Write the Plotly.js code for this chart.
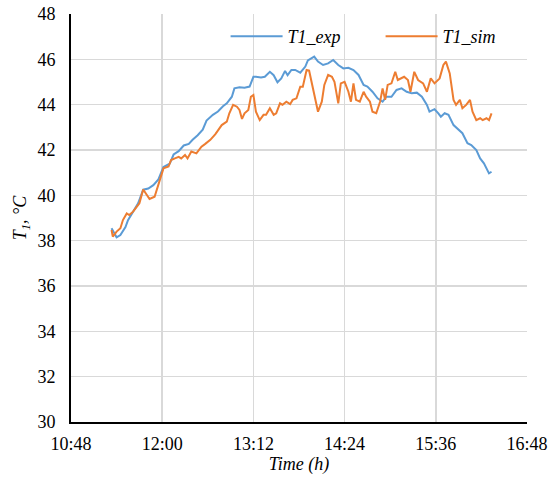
<!DOCTYPE html>
<html>
<head>
<meta charset="utf-8">
<script src="https://cdn.plot.ly/plotly-3.0.1.min.js"></script>
<style>html,body{margin:0;padding:0;background:#fff;}#chart{width:550px;height:478px;}</style>
</head>
<body>
<div id="chart"></div>
<script>
const expTime = ["11:20","11:24","11:27","11:31","11:33","11:37","11:41","11:45","11:49","11:53","11:57","12:01","12:04","12:06","12:09","12:13","12:17","12:21","12:24","12:28","12:32","12:35","12:40","12:44","12:48","12:51","12:55","12:57","13:01","13:05","13:09","13:12","13:14","13:18","13:21","13:25","13:28","13:31","13:34","13:37","13:39","13:42","13:45","13:49","13:53","13:55","14:00","14:03","14:07","14:11","14:15","14:19","14:23","14:27","14:31","14:35","14:39","14:42","14:46","14:50","14:54","14:57","15:01","15:05","15:09","15:13","15:17","15:21","15:25","15:29","15:31","15:35","15:38","15:40","15:43","15:46","15:50","15:53","15:57","16:01","16:04","16:08","16:11","16:14","16:18","16:20"];
const expTemp = [38.55,38.15,38.25,38.6,38.9,39.3,39.65,40.25,40.3,40.45,40.7,41.25,41.35,41.4,41.8,41.95,42.2,42.27,42.45,42.65,42.9,43.3,43.55,43.7,43.93,44.06,44.35,44.72,44.77,44.75,44.8,45.23,45.23,45.2,45.23,45.45,45.3,44.99,45.16,45.49,45.3,45.53,45.53,45.41,45.68,45.95,46.12,45.9,45.75,45.82,45.97,45.75,45.6,45.63,45.53,45.31,44.87,44.8,44.57,44.28,44.13,44.35,44.35,44.65,44.72,44.57,44.5,44.53,44.35,43.99,43.69,43.8,43.62,43.47,43.62,43.55,43.1,42.96,42.74,42.3,42.22,42.0,41.63,41.41,40.97,41.04];
const simTime = ["11:20","11:21","11:24","11:27","11:29","11:32","11:34","11:37","11:40","11:42","11:45","11:48","11:50","11:54","11:57","12:01","12:05","12:07","12:10","12:13","12:15","12:18","12:20","12:23","12:27","12:31","12:34","12:38","12:42","12:47","12:51","12:53","12:56","12:59","13:01","13:03","13:05","13:08","13:10","13:12","13:14","13:17","13:20","13:22","13:25","13:28","13:30","13:33","13:35","13:38","13:41","13:43","13:46","13:49","13:51","13:54","13:56","13:58","14:00","14:03","14:06","14:08","14:11","14:14","14:16","14:19","14:21","14:24","14:27","14:29","14:31","14:33","14:36","14:39","14:41","14:44","14:46","14:49","14:52","14:54","14:56","14:58","15:01","15:04","15:06","15:09","15:11","15:14","15:16","15:19","15:22","15:26","15:29","15:32","15:35","15:39","15:42","15:44","15:47","15:50","15:52","15:55","15:57","16:00","16:03","16:05","16:08","16:11","16:13","16:16","16:18","16:20"];
const simTemp = [38.47,38.18,38.4,38.55,38.91,39.2,39.13,39.28,39.5,39.65,40.26,40.01,39.84,39.94,40.46,41.19,41.27,41.56,41.63,41.7,41.63,41.78,41.63,41.93,41.85,42.15,42.27,42.45,42.7,43.1,43.25,43.62,43.99,43.91,43.77,43.37,43.62,43.77,44.35,44.43,43.69,43.32,43.55,43.55,43.84,43.55,43.62,44.06,43.99,44.13,44.02,44.21,44.28,44.79,44.79,45.53,45.5,45.01,44.43,43.69,44.13,44.87,45.31,45.23,45.01,44.06,44.94,45.01,44.57,44.13,44.94,44.21,44.13,44.57,44.35,44.13,43.69,43.62,44.13,44.72,44.21,44.87,44.94,45.45,45.09,45.16,45.23,45.09,44.57,45.45,45.09,44.94,44.57,45.16,44.94,45.16,45.75,45.9,45.38,44.21,43.99,44.21,43.84,43.99,44.21,43.69,43.32,43.4,43.32,43.4,43.32,43.62];
const xTickLabels = ["10:48","12:00","13:12","14:24","15:36","16:48"];
const yTickValues = [30,32,34,36,38,40,42,44,46,48];

const day = "2024-01-01 ";
const toDate = t => day + t;
const font = "'Liberation Serif', 'Times New Roman', serif";

const traces = [
  {x: expTime.map(toDate), y: expTemp, name: "<i>T1_exp</i>", type: "scatter", mode: "lines",
   line: {color: "#5B9BD5", width: 2}},
  {x: simTime.map(toDate), y: simTemp, name: "<i>T1_sim</i>", type: "scatter", mode: "lines",
   line: {color: "#ED7D31", width: 2}}
];

const layout = {
  width: 550, height: 478,
  margin: {l: 71, r: 23, t: 14, b: 56, autoexpand: false},
  paper_bgcolor: "#fff", plot_bgcolor: "#fff",
  font: {family: font, size: 18, color: "#000"},
  showlegend: true,
  legend: {orientation: "h", x: 0.339, xanchor: "left", y: 0.945, yanchor: "middle",
           bgcolor: "rgba(0,0,0,0)", font: {family: font, size: 18, color: "#000"},
           entrywidth: 88, itemwidth: 52},
  xaxis: {type: "date", range: [day + "10:48", day + "16:48"],
          tickvals: xTickLabels.map(toDate), ticktext: xTickLabels,
          showgrid: true, gridcolor: "#d9d9d9", gridwidth: 1.5,
          showline: true, linecolor: "#000", linewidth: 2, ticks: "", zeroline: false,
          ticklabelstandoff: 4,
          title: {text: "<i>Time (h)</i>", font: {family: font, size: 18}, standoff: 2},
          tickfont: {family: font, size: 18}},
  yaxis: {range: [30, 48], tickvals: yTickValues,
          showgrid: true, gridcolor: "#d9d9d9", gridwidth: 1.5,
          showline: true, linecolor: "#000", linewidth: 2, ticks: "", zeroline: false,
          ticklabelstandoff: 10,
          title: {text: "<i>T<sub>1</sub>, °C</i>", font: {family: font, size: 18}, standoff: 6},
          tickfont: {family: font, size: 18}}
};

Plotly.newPlot("chart", traces, layout, {displayModeBar: false, staticPlot: true});
</script>
</body>
</html>
